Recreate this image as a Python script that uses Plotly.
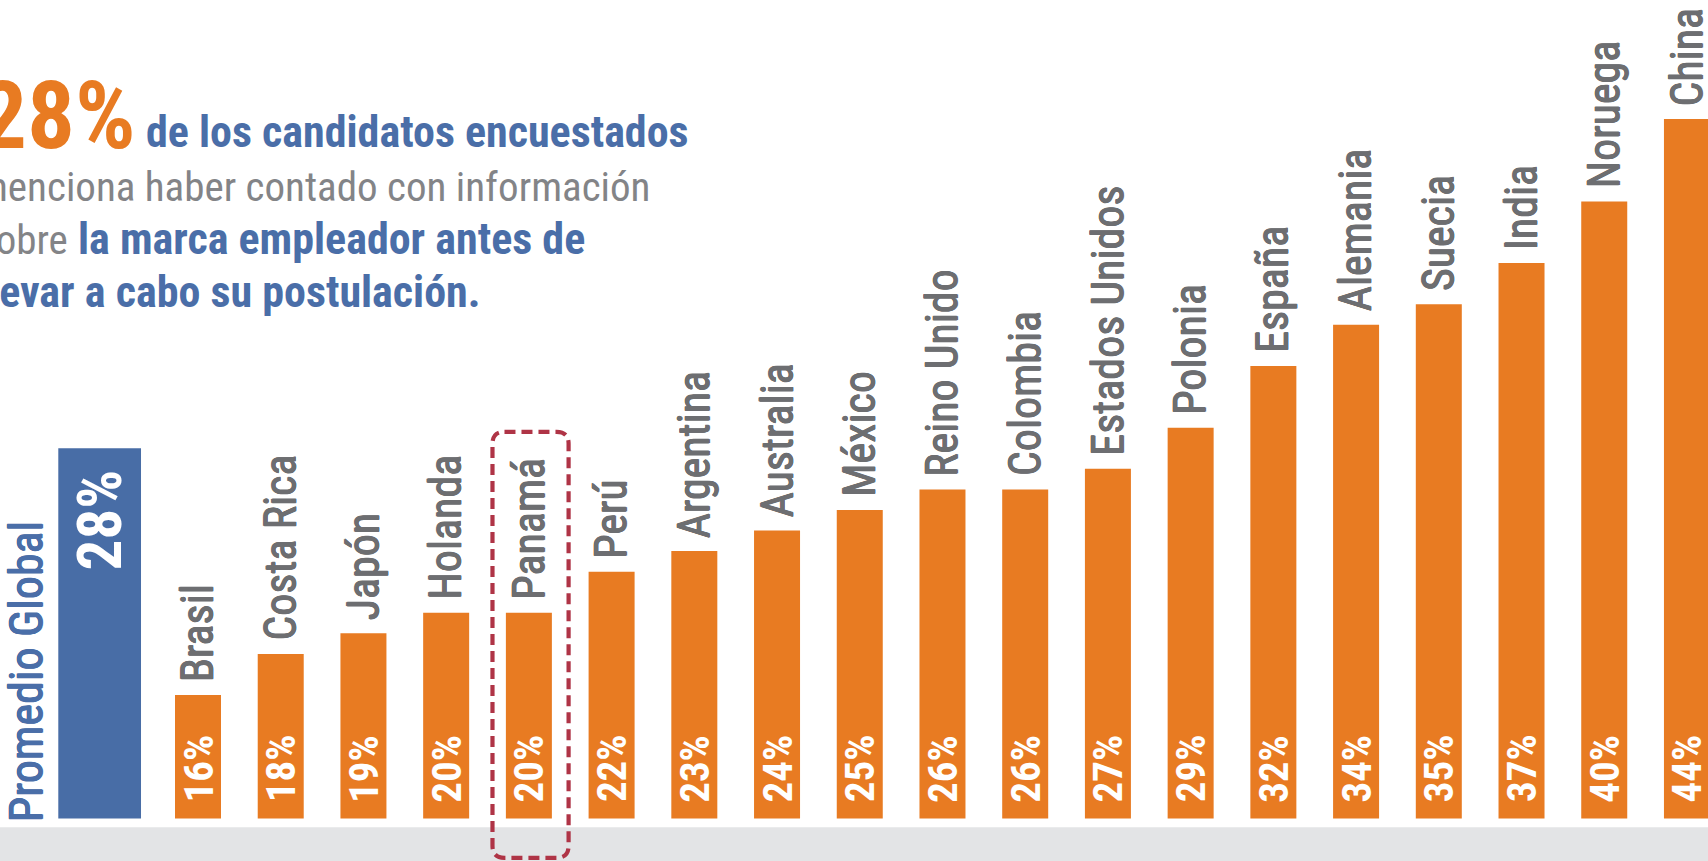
import plotly.graph_objects as go

# ---------------- data ----------------
countries = ["Brasil", "Costa Rica", "Japón", "Holanda", "Panamá", "Perú",
             "Argentina", "Australia", "México", "Reino Unido", "Colombia",
             "Estados Unidos", "Polonia", "España", "Alemania", "Suecia",
             "India", "Noruega", "China"]
values = [16, 18, 19, 20, 20, 22, 23, 24, 25, 26, 26, 27, 29, 32, 34, 35, 37, 40, 44]
global_label = "Promedio Global"
global_value = 28
highlight = "Panamá"
axis_base = 10  # bars start at 10 %

headline_big = "28%"
headline_line1 = "de los candidatos encuestados"
headline_line2 = "menciona haber contado con información"
headline_line3_gray = "sobre"
headline_line3_blue = "la marca empleador antes de"
headline_line4 = "llevar a cabo su postulación."

# ---------------- style ----------------
W, H = 1708, 861
ORANGE = "#E87B22"
BLUE = "#486DA6"
TXT_BLUE = "#4A6EA8"
GRAY_LBL = "#6D6E71"
GRAY_TXT = "#838487"
BAND = "#E3E4E6"
RED = "#AF3446"
NARROW = "Liberation Sans Narrow, Arial Narrow, Roboto Condensed, DejaVu Sans Condensed, sans-serif"


def thicken(c, d=0.45):
    return f"{d}px 0 0 {c}, -{d}px 0 0 {c}, 0 {d}px 0 {c}, 0 -{d}px 0 {c}"


x_pos = list(range(1, len(countries) + 1))
global_x = 0

fig = go.Figure()
fig.add_trace(go.Bar(
    x=x_pos, y=[v - axis_base for v in values], base=axis_base,
    width=0.556, marker=dict(color=ORANGE, line=dict(width=0)),
    hoverinfo="skip", showlegend=False))
fig.add_trace(go.Bar(
    x=[global_x], y=[global_value - axis_base], base=axis_base,
    width=1.0, offset=-0.689, marker=dict(color=BLUE, line=dict(width=0)),
    hoverinfo="skip", showlegend=False))

ann = []
for xp, name, v in zip(x_pos, countries, values):
    ann.append(dict(x=xp, y=v, xref="x", yref="y", text=name, showarrow=False,
                    textangle=-90, xanchor="center", yanchor="bottom", yshift=11,
                    font=dict(family=NARROW, size=44, color=GRAY_LBL,
                              shadow=thicken(GRAY_LBL))))
    ann.append(dict(x=xp, y=axis_base, xref="x", yref="y", text=f"{v}%", showarrow=False,
                    textangle=-90, xanchor="center", yanchor="bottom", yshift=14,
                    font=dict(family=NARROW, size=41, color="white", weight="bold")))

gcenter = global_x - 0.689 + 0.5
ann.append(dict(x=gcenter, y=global_value, xref="x", yref="y", text=f"{global_value}%",
                showarrow=False, textangle=-90, xanchor="center", yanchor="top", yshift=-19,
                font=dict(family=NARROW, size=61, color="white", weight="bold")))
ann.append(dict(x=gcenter - 0.5, y=axis_base, xref="x", yref="y", text=global_label,
                showarrow=False, textangle=-90, xanchor="right", yanchor="bottom",
                xshift=-3, yshift=-6,
                font=dict(family=NARROW, size=46, color=TXT_BLUE,
                          shadow=thicken(TXT_BLUE, 0.45))))


def py(px):
    return 1 - px / H


def pxx(px):
    return px / W


ann.append(dict(x=pxx(138), y=py(148 - 0.3465 * 95), xref="paper", yref="paper",
                text=headline_big, showarrow=False, xanchor="right", yanchor="middle",
                font=dict(family=NARROW, size=95, color=ORANGE, weight="bold")))
ann.append(dict(x=pxx(144), y=py(147 - 0.3465 * 44), xref="paper", yref="paper",
                text=headline_line1, showarrow=False, xanchor="left", yanchor="middle",
                font=dict(family=NARROW, size=44, color=TXT_BLUE, weight="bold")))
ann.append(dict(x=pxx(-25), y=py(201 - 0.3465 * 41), xref="paper", yref="paper",
                text=headline_line2, showarrow=False, xanchor="left", yanchor="middle",
                font=dict(family=NARROW, size=41, color=GRAY_TXT)))
ann.append(dict(x=pxx(-25), y=py(254 - 0.3465 * 44), xref="paper", yref="paper",
                text=f"<span style='color:{GRAY_TXT};font-weight:normal;font-size:41px'>{headline_line3_gray}</span> <b>{headline_line3_blue}</b>",
                showarrow=False, xanchor="left", yanchor="middle",
                font=dict(family=NARROW, size=44, color=TXT_BLUE)))
ann.append(dict(x=pxx(-25), y=py(307 - 0.3465 * 44), xref="paper", yref="paper",
                text=headline_line4, showarrow=False, xanchor="left", yanchor="middle",
                font=dict(family=NARROW, size=44, color=TXT_BLUE, weight="bold")))

# dashed rounded box around the highlighted country
hi = x_pos[countries.index(highlight)]
x0, x1 = hi - 0.44, hi + 0.48
y0, y1 = 8.09, 28.8
rx, ry = 12 / 82.72, 12 / 20.57
path = (f"M {x0+rx},{y1} L {x1-rx},{y1} Q {x1},{y1} {x1},{y1-ry} "
        f"L {x1},{y0+ry} Q {x1},{y0} {x1-rx},{y0} L {x0+rx},{y0} "
        f"Q {x0},{y0} {x0},{y0+ry} L {x0},{y1-ry} Q {x0},{y1} {x0+rx},{y1} Z")

shapes = [
    dict(type="rect", xref="paper", yref="paper", x0=-0.01, x1=1.01, y0=-0.01,
         y1=(H - 827.3) / H, fillcolor=BAND, line=dict(width=0), layer="below"),
    dict(type="path", xref="x", yref="y", path=path,
         line=dict(color=RED, width=4.2, dash="11px,6px"), layer="above"),
]

fig.update_layout(
    width=W, height=H, margin=dict(l=0, r=0, t=0, b=0, pad=0),
    paper_bgcolor="white", plot_bgcolor="rgba(0,0,0,0)",
    barmode="overlay", showlegend=False,
    xaxis=dict(range=[1 - 198 / 82.72, 1 + 1510 / 82.72], visible=False, fixedrange=True),
    yaxis=dict(range=[axis_base - 42.5 / 20.57, axis_base + 818.5 / 20.57],
               visible=False, fixedrange=True),
    annotations=ann, shapes=shapes,
)

fig.write_html("out.html", config={"displayModeBar": False},
               post_script="document.body.style.margin='0';document.body.style.overflow='hidden';")
